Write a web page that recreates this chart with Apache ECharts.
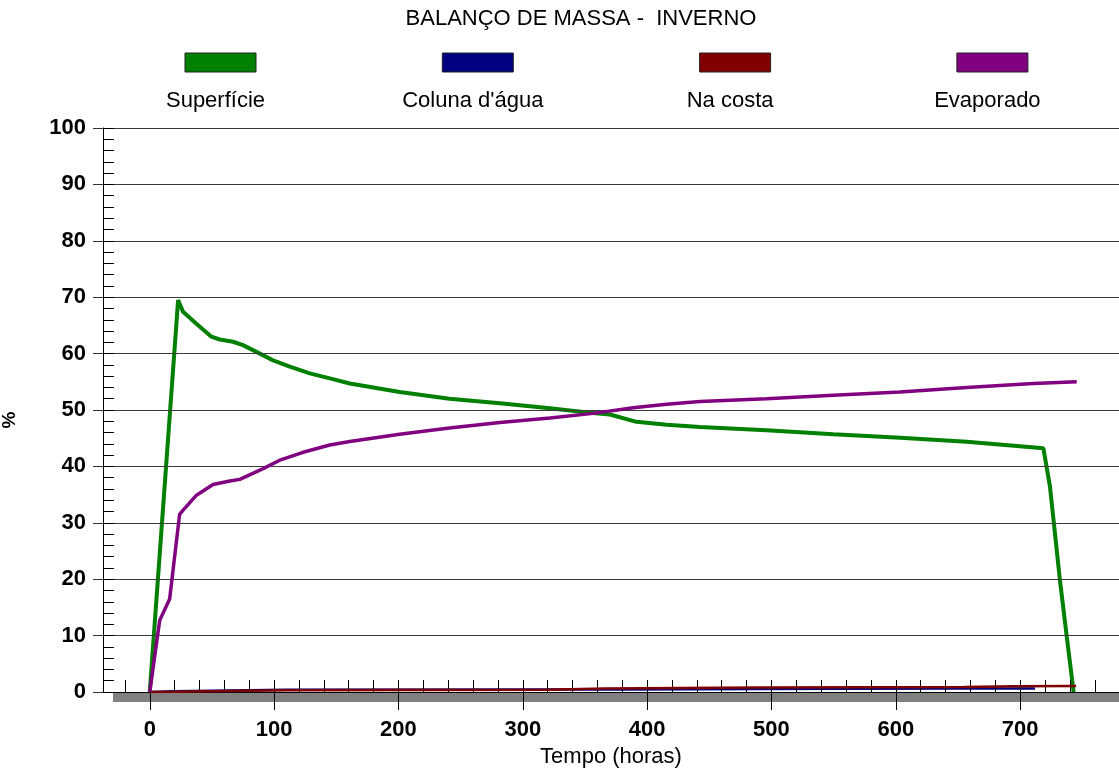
<!DOCTYPE html>
<html>
<head>
<meta charset="utf-8">
<script src="https://cdn.jsdelivr.net/npm/echarts@6/dist/echarts.min.js"></script>
<style>
html,body{margin:0;padding:0;background:#ffffff;}
#chart{width:1119px;height:771px;}
</style>
</head>
<body>
<div id="chart"></div>
<script>
// ---------- DATA ----------
const chartTitle = 'BALANÇO DE MASSA -  INVERNO';
const seriesNames = ['Superfície', "Coluna d'água", 'Na costa', 'Evaporado'];
const seriesColors = ['#008000', '#000080', '#800000', '#800080'];

// [hours, %]
const superficie = [
  [0,0],[22.8,69.5],[26.8,67.4],[37.5,65.3],[49.6,63.0],[56.3,62.5],[67,62.1],[75,61.5],
  [85.8,60.3],[99.2,58.8],[112.6,57.7],[128.7,56.5],[144.8,55.6],[160.9,54.7],[201,53.2],
  [241,52.0],[281.6,51.2],[321.8,50.3],[354,49.5],[370,49.2],[391.5,47.9],[415.7,47.4],
  [442.5,47.0],[496,46.4],[549.7,45.7],[603.4,45.1],[657,44.35],[718.7,43.2],[724,36.4],
  [732,19.8],[737.5,9.8],[743,0]
];
const colunaAgua = [
  [0,0],[20,0.15],[110,0.4],[320,0.45],[380,0.45],[490,0.55],[645,0.6],[712,0.6]
];
const naCosta = [
  [0,0],[20,0.05],[110,0.3],[320,0.4],[365,0.6],[490,0.8],[655,0.9],[695,1.0],[745,1.05]
];
const evaporado = [
  [0,0],[8,12.7],[16,16.5],[24,31.5],[27,32.3],[37.6,34.9],[50.9,36.8],[64.4,37.4],[72.4,37.7],
  [91.2,39.6],[104.6,41.1],[123.3,42.5],[144.8,43.8],[160.9,44.4],[201,45.7],[241,46.8],
  [281.6,47.8],[321.8,48.6],[356.6,49.4],[388.8,50.4],[415.7,51.0],[442.5,51.5],[496,52.0],
  [549.7,52.6],[603.4,53.2],[657,54.0],[710.6,54.7],[745.5,55.0]
];
const seriesData = [superficie, colunaAgua, naCosta, evaporado];

const xTickLabels = [0,100,200,300,400,500,600,700];
const yTickLabels = [0,10,20,30,40,50,60,70,80,90,100];
const xAxisTitle = 'Tempo (horas)';
const yAxisTitle = '%';

// ---------- CHART ----------
const FONT = "'Liberation Sans', Arial, sans-serif";
const xMin = -37.6, xMax = 779.5;
const xMinorTicks = [];
for (let h = -20; h <= 760; h += 20) xMinorTicks.push(h);

const chart = echarts.init(document.getElementById('chart'), null, {renderer:'canvas'});

const widths = [4, 2.5, 2.5, 3.5];

const legendGraphics = [];
seriesNames.forEach((name, i) => {
  const x0 = 185 + i * 257.3;
  legendGraphics.push({
    type:'rect', shape:{x:x0, y:53, width:71, height:19},
    style:{fill:seriesColors[i], stroke:'#222', lineWidth:1}, z:10
  });
  legendGraphics.push({
    type:'text', x:x0 + 30.5, y:101,
    style:{text:name, fill:'#000', font:'22px ' + FONT, textAlign:'center', textVerticalAlign:'middle'}, z:10
  });
});

const option = {
  animation:false,
  backgroundColor:'#ffffff',
  title:{
    text:chartTitle, left:581, top:8, textAlign:'center', padding:0,
    textStyle:{fontFamily:FONT, fontSize:22, fontWeight:'normal', color:'#000'}
  },
  grid:{left:103, right:0, top:128, bottom:79, containLabel:false, outerBoundsMode:'none'},
  xAxis:[
    {
      type:'value', min:xMin, max:xMax, position:'bottom', z:5,
      axisLine:{show:true, onZero:false, lineStyle:{color:'#000', width:1}},
      axisTick:{show:true, customValues:xTickLabels, length:18, lineStyle:{color:'#000', width:1}},
      axisLabel:{customValues:xTickLabels, fontFamily:FONT, fontSize:22, fontWeight:'bold', color:'#000', margin:27},
      splitLine:{show:false},
      name:xAxisTitle, nameLocation:'middle', nameGap:54,
      nameTextStyle:{fontFamily:FONT, fontSize:22, color:'#000'}
    },
    {
      type:'value', min:xMin, max:xMax, position:'bottom', z:5,
      axisLine:{show:false, onZero:false},
      axisTick:{show:true, inside:true, customValues:xMinorTicks, length:12, lineStyle:{color:'#000', width:1}},
      axisLabel:{show:false},
      splitLine:{show:false}
    }
  ],
  yAxis:[
    {
      type:'value', min:0, max:100, interval:10, position:'left', z:5,
      axisLine:{show:true, onZero:false, lineStyle:{color:'#000', width:1}},
      axisTick:{show:true, length:10, lineStyle:{color:'#333', width:1}},
      axisLabel:{fontFamily:FONT, fontSize:22, fontWeight:'bold', color:'#000', margin:17},
      splitLine:{show:true, lineStyle:{color:'#3a3a3a', width:1}},
      name:yAxisTitle, nameLocation:'middle', nameGap:84, nameRotate:90,
      nameTextStyle:{fontFamily:FONT, fontSize:19, fontWeight:'bold', color:'#000', padding:[0,20,0,0]}
    },
    {
      type:'value', min:0, max:100, interval:2, position:'left', z:5,
      axisLine:{show:false, onZero:false},
      axisTick:{show:true, inside:true, length:11, lineStyle:{color:'#000', width:1}},
      axisLabel:{show:false},
      splitLine:{show:false}
    }
  ],
  graphic:[
    {type:'rect', shape:{x:113, y:692, width:1006, height:10}, style:{fill:'#808080'}, z:-1}
  ].concat(legendGraphics),
  series: seriesNames.map((name, i) => ({
    name:name, type:'line', xAxisIndex:0, yAxisIndex:0,
    data:seriesData[i], showSymbol:false, symbol:'none', smooth:false,
    lineStyle:{color:seriesColors[i], width:widths[i]},
    itemStyle:{color:seriesColors[i]},
    z: 3 + i
  }))
};
chart.setOption(option);
</script>
</body>
</html>
